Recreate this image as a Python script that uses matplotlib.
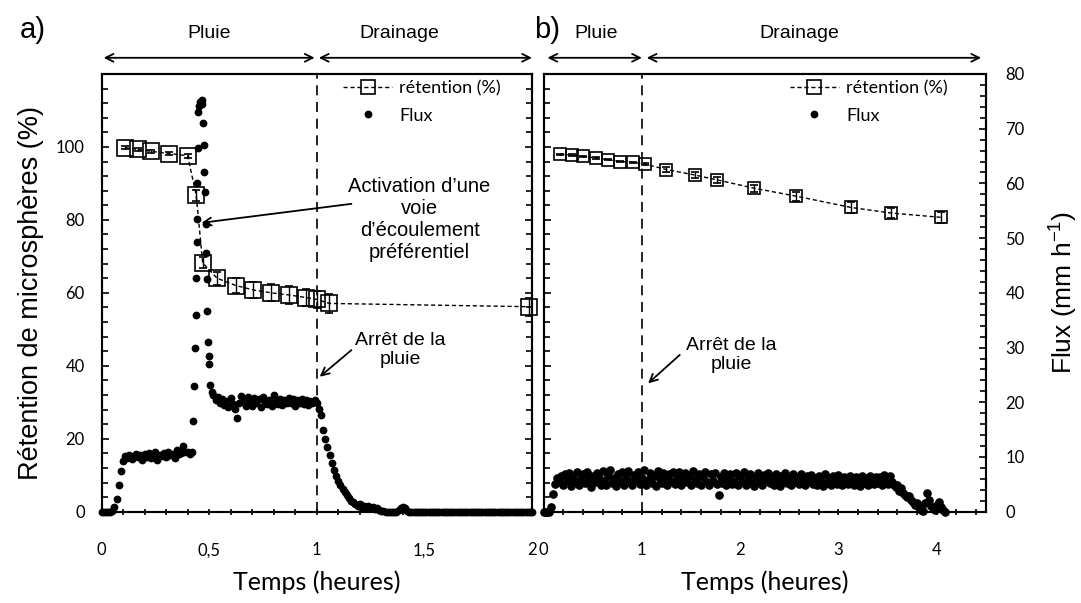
import numpy as np
import matplotlib
matplotlib.use("Agg")
import matplotlib.pyplot as plt
from matplotlib.lines import Line2D
from matplotlib.ticker import MultipleLocator, FuncFormatter

plt.rcParams['font.family'] = ['Liberation Sans', 'DejaVu Sans']
plt.rcParams['mathtext.default'] = 'regular'
TICKFONT = ['Lato', 'DejaVu Sans']

# ---------- panel a : rétention (%) ----------
ret_a_t = [0.11, 0.17, 0.23, 0.315, 0.40, 0.44, 0.47, 0.537, 0.625, 0.705, 0.789, 0.873, 0.951, 1.0, 1.058, 1.987]
ret_a = [99.8, 99.3, 98.8, 98.2, 97.6, 86.8, 68.2, 64.0, 62.0, 60.8, 60.0, 59.4, 58.7, 58.2, 57.1, 56.2]
ret_a_err = [0.4, 0.4, 0.4, 0.4, 0.5, 1.5, 1.5, 1.8, 2.0, 2.2, 2.3, 2.4, 2.4, 2.4, 2.5, 2.5]

# panel a flux, rain phase 1 : t = 0.00 .. 0.41 h, every 0.01 h
flux_a_rain = [0, 0, 0, 0, 0, 0.3, 1.4, 3.4, 7.2, 11.1,
               14.0, 15.3, 14.7, 15.6, 14.4, 15.2, 15.9, 14.9, 15.5, 14.1,
               15.8, 15.0, 16.2, 14.6, 15.3, 16.4, 14.3, 15.6, 15.2, 16.1,
               14.9, 16.5, 15.5, 15.9, 14.7, 16.8, 15.8, 16.2, 18.0, 16.4,
               16.4, 15.9]
# panel a flux, peak (irregular times)
flux_a_peak_t = [0.420, 0.426, 0.430, 0.434, 0.437, 0.440, 0.442, 0.444, 0.446, 0.448,
                 0.450, 0.454, 0.458, 0.462, 0.466, 0.469, 0.472, 0.475, 0.478, 0.481,
                 0.484, 0.487, 0.490, 0.492, 0.495, 0.498, 0.501, 0.506, 0.512]
flux_a_peak = [16.5, 24.8, 34.4, 45.0, 54.0, 64.1, 74.0, 80.3, 90.0, 99.8,
               109.5, 111.3, 112.2, 112.5, 112.8, 111.9, 106.7, 100.5, 93.0, 87.6,
               78.8, 71.0, 63.9, 54.9, 46.5, 42.6, 40.4, 34.8, 32.7]
# panel a flux, rain phase 2 + drainage : t = 0.52 .. 2.00 h, every 0.01 h
flux_a_end = [32.0, 30.6, 31.4, 29.7, 30.9, 29.3, 30.3, 28.7, 31.2, 29.4,
              28.2, 25.8, 29.9, 31.8, 30.5, 29.1, 31.5, 30.2, 29.0, 31.1,
              29.7, 30.8, 28.8, 31.4, 30.0, 29.4, 30.6, 29.1, 32.0, 30.3,
              29.6, 30.9, 29.3, 30.5, 29.7, 31.2, 29.9, 30.8, 29.0, 30.6,
              29.7, 30.9, 29.4, 30.5, 29.3, 30.3, 29.9, 30.6, 29.7,
              28.2, 26.6, 22.5, 19.8, 17.7, 15.5, 13.4, 11.4, 9.9, 8.4,
              7.4, 6.3, 5.4, 4.5, 3.8, 3.0, 2.7, 2.1, 1.7, 2.0,
              1.4, 1.7, 1.2, 1.5, 0.9, 1.2, 0.8, 1.1, 0.5, 0.3,
              0.2, 0, 0, 0, 0, 0, 0, 0.5, 1.1, 1.2,
              0.9, 0.3, 0, 0, 0, 0, 0, 0, 0, 0,
              0, 0, 0, 0, 0, 0, 0, 0, 0, 0,
              0, 0, 0, 0, 0, 0, 0, 0, 0, 0,
              0, 0, 0, 0, 0, 0, 0, 0, 0, 0,
              0, 0, 0, 0, 0, 0, 0, 0, 0, 0,
              0, 0, 0, 0, 0, 0, 0, 0, 0, 0]

# ---------- panel b ----------
ret_b_t = [0.17, 0.29, 0.40, 0.53, 0.66, 0.78, 0.91, 1.03, 1.25, 1.54, 1.76, 2.14, 2.57, 3.13, 3.53, 4.04]
ret_b = [98.0, 97.8, 97.4, 97.0, 96.5, 96.0, 95.8, 95.3, 93.8, 92.3, 91.0, 88.7, 86.5, 83.4, 81.9, 80.7]
ret_b_err = [0.2, 0.2, 0.2, 0.2, 0.2, 0.2, 0.2, 0.3, 0.6, 0.7, 0.8, 1.0, 1.2, 1.4, 1.4, 1.5]

# panel b flux (mm/h) : t = 0.00 .. 4.08 h, every 0.02 h
flux_b = [0, 0, 0, 0, 0.9, 3.2, 5.0, 6.1, 5.4, 6.6,
          4.9, 6.9, 5.8, 7.1, 4.7, 6.2, 5.5, 7.3, 4.8, 6.0,
          6.8, 5.2, 7.2, 5.9, 4.6, 6.6, 5.4, 7.0, 6.1, 4.9,
          7.4, 5.7, 4.8, 6.5, 7.6, 5.3, 6.1, 4.7, 6.9, 5.6,
          7.2, 4.9, 6.3, 7.5, 5.5, 4.8, 6.7, 5.9, 7.3, 5.1,
          6.2, 7.6, 4.9, 5.8, 7.1, 5.3, 6.5, 4.7, 7.4, 6.0,
          5.2, 7.0, 6.3, 4.8, 6.8, 5.6, 7.3, 5.0, 6.1, 7.2,
          4.9, 5.9, 7.1, 5.4, 6.6, 4.8, 7.4, 6.0, 5.2, 6.9,
          4.8, 6.3, 7.2, 5.5, 4.9, 6.8, 5.7, 7.0, 5.1, 3.1,
          6.4, 5.3, 7.1, 4.8, 6.0, 6.9, 5.1, 5.7, 7.0, 4.9,
          6.6, 5.5, 7.2, 4.9, 6.1, 6.8, 5.3, 4.7, 6.4, 7.0,
          5.6, 4.8, 6.7, 5.9, 7.1, 5.2, 6.3, 4.9, 6.9, 5.7,
          4.7, 6.5, 5.8, 7.0, 5.2, 6.2, 4.8, 6.8, 5.5, 6.4,
          5.0, 6.9, 5.9, 4.8, 6.5, 5.4, 6.7, 5.1, 6.2, 4.9,
          6.6, 5.6, 4.7, 6.9, 5.3, 6.1, 4.8, 6.5, 5.8, 5.0,
          6.7, 5.4, 4.8, 6.4, 5.9, 5.0, 6.6, 5.5, 4.9, 6.3,
          5.7, 4.7, 6.5, 5.3, 6.1, 4.8, 6.6, 5.6, 5.0, 6.4,
          5.2, 6.3, 4.8, 6.7, 5.6, 5.0, 6.5, 5.4, 4.9, 4.6,
          4.9, 3.8, 4.3, 3.4, 3.0, 2.6, 2.9, 2.2, 1.8, 1.2,
          1.6, 0.9, 0.4, 0.2, 1.5, 3.4, 2.2, 1.1, 0.6, 0.4,
          1.2, 1.8, 0.9, 0.3, 0.0]

t_a_rain = np.arange(len(flux_a_rain)) * 0.01
t_a_end = 0.52 + np.arange(len(flux_a_end)) * 0.01
t_b = np.arange(len(flux_b)) * 0.02

fig = plt.figure(figsize=(10.81, 6.03), dpi=100)
ax_a = fig.add_axes([0.0939, 0.1514, 0.3982, 0.7259])
ax_b = fig.add_axes([0.5028, 0.1514, 0.4093, 0.7259])
ax_a2 = ax_a.twinx()
ax_b2 = ax_b.twinx()

comma = FuncFormatter(lambda v, p: f"{v:g}".replace(".", ","))

def style(ax, ax2, xmax, xmaj, xmin, rmax, rmaj, rmin, left_lab, right_lab):
    ax.set_xlim(0, xmax)
    ax.set_ylim(0, 120)
    ax2.set_ylim(0, rmax)
    ax.xaxis.set_major_locator(MultipleLocator(xmaj))
    ax.xaxis.set_minor_locator(MultipleLocator(xmin))
    ax.xaxis.set_major_formatter(comma)
    ax.set_yticks(range(0, 101, 20))
    ax.yaxis.set_minor_locator(MultipleLocator(4))
    ax2.yaxis.set_major_locator(MultipleLocator(rmaj))
    ax2.yaxis.set_minor_locator(MultipleLocator(rmin))
    ax.tick_params(axis='x', which='both', direction='inout', length=4, width=1.2, pad=20, labelsize=12)
    ax.tick_params(axis='y', which='major', direction='in', length=5, width=1.2, pad=12, labelsize=12,
                   labelleft=left_lab)
    ax.tick_params(axis='y', which='minor', direction='in', length=4, width=1.2)
    ax2.tick_params(axis='y', which='major', direction='in', length=5, width=1.2, pad=14, labelsize=12,
                    labelright=right_lab)
    ax2.tick_params(axis='y', which='minor', direction='in', length=4, width=1.2)
    for lab in ax.get_xticklabels() + ax.get_yticklabels() + ax2.get_yticklabels():
        lab.set_family(TICKFONT)
    for a in (ax, ax2):
        for s in a.spines.values():
            s.set_linewidth(1.5)
    ax.set_xlabel("Temps (heures)", fontsize=18, family=TICKFONT)
    ax.xaxis.set_label_coords(0.5, -0.135)
    ax.axvline(1, color='black', lw=1.2, ls=(0, (6, 4)), zorder=1)

style(ax_a, ax_a2, 2, 0.5, 0.1, 120, 20, 4, True, False)
style(ax_b, ax_b2, 4.5, 1, 0.2, 80, 10, 2, False, True)

ax_a.set_ylabel("Rétention de microsphères (%)", fontsize=19.5, va='center', ha='center')
ax_a.yaxis.set_label_coords(-0.163, 0.5)
ax_b2.set_ylabel("Flux (mm h$^{-1}$)", fontsize=19, rotation=90, va='center', ha='center')
ax_b2.yaxis.set_label_coords(1.176, 0.5)

dot = dict(ls='none', marker='o', color='black', zorder=3, clip_on=False)
ax_a2.plot(t_a_rain, flux_a_rain, ms=4.6, **dot)
ax_a2.plot(flux_a_peak_t, flux_a_peak, ms=4.6, **dot)
ax_a2.plot(t_a_end, flux_a_end, ms=4.6, **dot)
ax_b2.plot(t_b, flux_b, ms=5.2, **dot)

sq = dict(fmt='s', ls=(0, (3, 2)), lw=1, color='black', mfc='none', mec='black', mew=1.2,
          ecolor='black', elinewidth=1, capsize=3, zorder=4)
cont_a = ax_a2.errorbar(ret_a_t, ret_a, yerr=ret_a_err, ms=11, **sq)
cont_b = ax_b2.errorbar(ret_b_t, [v * 80 / 120 for v in ret_b], yerr=[e * 80 / 120 for e in ret_b_err],
                        ms=9, **sq)
for cont in (cont_a, cont_b):
    for art in cont.get_children():
        art.set_clip_on(False)

for ax, anchor in ((ax_a2, (0.562, 0.985)), (ax_b2, (0.557, 0.985))):
    h = [Line2D([], [], ls=(0, (3, 2)), lw=1, color='black', marker='s', mfc='none', ms=10, mew=1.2),
         Line2D([], [], ls='none', marker='o', color='black', ms=4.6)]
    ax.legend(h, ["rétention (%)", "Flux"], loc='upper left', bbox_to_anchor=anchor, frameon=False,
              borderaxespad=0, borderpad=0, handlelength=2.7, handletextpad=0.4, labelspacing=0.6,
              prop={'family': TICKFONT, 'size': 13})

arrow = dict(arrowstyle='->', color='black', lw=1.3, mutation_scale=14, shrinkA=0, shrinkB=0)
ax_a.text(1.478, 80.2, "Activation d\u2019une\nvoie\nd\u2019écoulement\npréférentiel",
          ha='center', va='center', fontsize=14.5, linespacing=1.2)
ax_a.annotate("", xy=(0.465, 79.2), xytext=(1.161, 84.4), arrowprops=arrow)
ax_a.text(1.39, 44.3, "Arrêt de la\npluie", ha='center', va='center', fontsize=14, linespacing=1.2)
ax_a.annotate("", xy=(1.014, 37.0), xytext=(1.161, 44.3), arrowprops=arrow)
ax_b.text(1.914, 43.0, "Arrêt de la\npluie", ha='center', va='center', fontsize=14, linespacing=1.2)
ax_b.annotate("", xy=(1.064, 35.2), xytext=(1.386, 43.0), arrowprops=arrow)

# phase arrows above the panels
both = dict(arrowstyle='<->', color='black', lw=1.3, mutation_scale=14, shrinkA=0, shrinkB=0)
phases = [(ax_a, 0.01, 0.99, 0.50, "Pluie"), (ax_a, 1.01, 2.0, 1.385, "Drainage"),
          (ax_b, 0.04, 1.0, 0.54, "Pluie"), (ax_b, 1.05, 4.45, 2.6, "Drainage")]
for ax, x0, x1, xt, lab in phases:
    ax.annotate("", xy=(x0, 1.037), xytext=(x1, 1.037), xycoords=('data', 'axes fraction'),
                textcoords=('data', 'axes fraction'), arrowprops=both, annotation_clip=False)
    ax.text(xt, 1.093, lab, transform=ax.get_xaxis_transform(), ha='center', va='center', fontsize=14)

fig.text(0.03, 0.95, "a)", fontsize=21, ha='center', va='center')
fig.text(0.506, 0.95, "b)", fontsize=21, ha='center', va='center')

fig.savefig("out.png", dpi=100)
